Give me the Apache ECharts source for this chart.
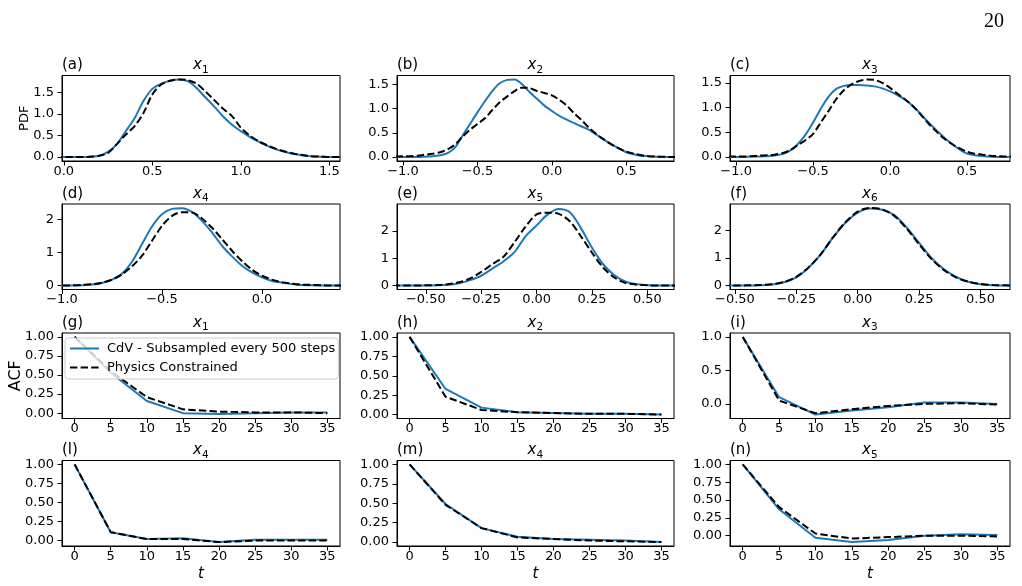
<!DOCTYPE html>
<html><head><meta charset="utf-8">
<script src="https://cdn.jsdelivr.net/npm/echarts@6/dist/echarts.min.js"></script>
<style>html,body{margin:0;padding:0;background:#fff}#c{width:1022px;height:586px}</style>
</head><body><div id="c"></div>
<script>
// ---------- DATA ----------
const seriesNames = ['CdV - Subsampled every 500 steps', 'Physics Constrained'];
const lags = [0, 5, 10, 15, 20, 25, 30, 35];

const xA = [-0.05,0,0.05,0.1,0.15,0.2,0.25,0.3,0.35,0.4,0.45,0.5,0.55,0.6,0.65,0.7,0.75,0.8,0.85,0.9,0.95,1.0,1.05,1.1,1.15,1.2,1.25,1.3,1.35,1.4,1.45,1.5,1.55,1.6];
const cdvA = [0,0,0,0,0.01,0.03,0.12,0.3,0.6,0.9,1.3,1.58,1.7,1.77,1.8,1.76,1.6,1.38,1.17,0.94,0.75,0.6,0.47,0.36,0.26,0.18,0.12,0.07,0.04,0.02,0.01,0,0,0];
const pcA  = [0,0,0,0,0.01,0.03,0.1,0.3,0.52,0.72,1.02,1.45,1.68,1.77,1.8,1.78,1.7,1.52,1.32,1.12,0.95,0.68,0.5,0.37,0.27,0.19,0.13,0.08,0.05,0.02,0.01,0,0,0];

const xB = [-1.05,-1.0,-0.95,-0.9,-0.85,-0.8,-0.75,-0.7,-0.65,-0.6,-0.55,-0.5,-0.45,-0.4,-0.35,-0.3,-0.25,-0.2,-0.15,-0.1,-0.05,0,0.05,0.1,0.15,0.2,0.25,0.3,0.35,0.4,0.45,0.5,0.55,0.6,0.65,0.7,0.75,0.8,0.85];
const cdvB = [0,0,0,0,0.01,0.02,0.04,0.08,0.2,0.44,0.68,0.92,1.15,1.36,1.52,1.59,1.6,1.5,1.34,1.2,1.06,0.95,0.85,0.77,0.7,0.63,0.56,0.46,0.36,0.26,0.18,0.1,0.06,0.03,0.02,0.01,0,0,0];
const pcB  = [0.01,0.02,0.02,0.03,0.05,0.07,0.1,0.16,0.26,0.42,0.56,0.68,0.8,0.97,1.13,1.25,1.36,1.43,1.42,1.36,1.32,1.27,1.18,1.06,0.9,0.76,0.6,0.47,0.36,0.26,0.18,0.11,0.07,0.04,0.02,0.01,0.01,0,0];

const xC = [-1.05,-1.0,-0.95,-0.9,-0.85,-0.8,-0.75,-0.7,-0.65,-0.6,-0.55,-0.5,-0.45,-0.4,-0.35,-0.3,-0.25,-0.2,-0.15,-0.1,-0.05,0,0.05,0.1,0.15,0.2,0.25,0.3,0.35,0.4,0.45,0.5,0.55,0.6,0.65,0.7,0.75,0.8];
const cdvC = [0,0,0,0.01,0.01,0.02,0.03,0.06,0.13,0.26,0.45,0.7,0.98,1.22,1.38,1.44,1.46,1.46,1.45,1.43,1.39,1.33,1.25,1.16,1.03,0.87,0.7,0.55,0.4,0.27,0.16,0.07,0.04,0.02,0.01,0,0,0];
const pcC  = [0.01,0.01,0.01,0.02,0.03,0.04,0.05,0.08,0.14,0.24,0.34,0.47,0.7,0.93,1.17,1.35,1.47,1.54,1.57,1.56,1.5,1.4,1.28,1.16,1.03,0.86,0.68,0.52,0.38,0.27,0.18,0.11,0.07,0.05,0.03,0.02,0.01,0.01];

const xD = [-1.05,-1.0,-0.95,-0.9,-0.85,-0.8,-0.75,-0.7,-0.65,-0.6,-0.55,-0.5,-0.45,-0.4,-0.35,-0.3,-0.25,-0.2,-0.15,-0.1,-0.05,0,0.05,0.1,0.15,0.2,0.25,0.3,0.35,0.4,0.45];
const cdvD = [0,0,0,0.01,0.03,0.08,0.18,0.36,0.72,1.25,1.78,2.15,2.31,2.33,2.22,1.95,1.6,1.2,0.88,0.6,0.4,0.25,0.14,0.09,0.05,0.02,0.01,0,0,0,0];
const pcD  = [0,0,0.01,0.02,0.04,0.09,0.18,0.34,0.58,0.9,1.35,1.8,2.1,2.21,2.2,2.02,1.74,1.4,1.05,0.74,0.48,0.3,0.18,0.1,0.06,0.03,0.02,0.01,0,0,0];

const xE = [-0.65,-0.6,-0.55,-0.5,-0.45,-0.4,-0.35,-0.3,-0.25,-0.2,-0.15,-0.1,-0.05,0,0.05,0.1,0.15,0.2,0.25,0.3,0.35,0.4,0.45,0.5,0.55,0.6,0.65];
const cdvE = [0,0,0,0,0.01,0.03,0.09,0.2,0.36,0.62,0.88,1.22,1.8,2.2,2.6,2.8,2.68,2.1,1.38,0.78,0.39,0.15,0.05,0.02,0,0,0];
const pcE  = [0,0,0,0.01,0.02,0.05,0.12,0.26,0.5,0.78,1.05,1.58,2.15,2.6,2.66,2.62,2.35,1.8,1.2,0.66,0.3,0.1,0.04,0.01,0,0,0];

const xF = [-0.55,-0.5,-0.45,-0.4,-0.35,-0.3,-0.25,-0.2,-0.15,-0.1,-0.05,0,0.05,0.1,0.15,0.2,0.25,0.3,0.35,0.4,0.45,0.5,0.55,0.6,0.65];
const cdvF = [0,0,0,0.01,0.04,0.12,0.3,0.65,1.14,1.75,2.28,2.65,2.8,2.75,2.55,2.1,1.55,1.0,0.6,0.32,0.14,0.05,0.01,0,0];
const pcF  = [0,0,0.01,0.02,0.05,0.13,0.32,0.66,1.14,1.76,2.3,2.68,2.82,2.76,2.52,2.06,1.5,0.97,0.57,0.3,0.14,0.06,0.02,0.01,0];

const acfG_cdv = [1.0,0.53,0.16,0.0,-0.01,0.0,0.01,0.01];
const acfG_pc  = [1.0,0.55,0.21,0.05,0.02,0.01,0.01,0.0];
const acfH_cdv = [1.0,0.33,0.09,0.03,0.02,0.01,0.01,0.0];
const acfH_pc  = [1.0,0.23,0.06,0.03,0.02,0.01,0.01,0.0];
const acfI_cdv = [1.0,0.1,-0.16,-0.1,-0.05,0.02,0.02,0.0];
const acfI_pc  = [1.0,0.05,-0.14,-0.08,-0.03,0.0,0.01,-0.01];
const acfL_cdv = [1.0,0.11,0.02,0.03,-0.02,0.01,0.01,0.01];
const acfL_pc  = [1.0,0.11,0.02,0.02,-0.02,0.0,0.0,0.0];
const acfM_cdv = [1.0,0.49,0.18,0.07,0.04,0.03,0.02,0.0];
const acfM_pc  = [1.0,0.48,0.18,0.06,0.04,0.02,0.01,0.0];
const acfN_cdv = [1.0,0.37,-0.03,-0.09,-0.06,0.0,0.02,0.01];
const acfN_pc  = [1.0,0.40,0.03,-0.04,-0.02,0.0,0.0,-0.01];

const ticksX_A = [0, 0.5, 1.0, 1.5];
const ticksX_BC = [-1.0, -0.5, 0.0, 0.5];
const ticksX_D = [-1.0, -0.5, 0.0];
const ticksX_EF = [-0.5, -0.25, 0, 0.25, 0.5];
const ticksY_ABC = [0, 0.5, 1.0, 1.5];
const ticksY_DEF = [0, 1, 2];
const ticksX_ACF = [0, 5, 10, 15, 20, 25, 30, 35];
const ticksY_ACF = [0, 0.25, 0.5, 0.75, 1.0];
const ticksY_ACF_I = [0, 0.5, 1.0];

const panelLetters = ['(a)','(b)','(c)','(d)','(e)','(f)','(g)','(h)','(i)','(l)','(m)','(n)'];
const panelSubs = ['1','2','3','4','5','6','1','2','3','4','4','5'];

// ---------- PANEL CONFIG ----------
const panels = [
  {x:xA, c:cdvA, p:pcA, smooth:true, xr:[-0.01,1.56], yr:[-0.09,1.89], xt:ticksX_A, yt:ticksY_ABC, xd:1, yd:1},
  {x:xB, c:cdvB, p:pcB, smooth:true, xr:[-1.04,0.82], yr:[-0.08,1.68], xt:ticksX_BC, yt:ticksY_ABC, xd:1, yd:1},
  {x:xC, c:cdvC, p:pcC, smooth:true, xr:[-1.04,0.78], yr:[-0.0785,1.65], xt:ticksX_BC, yt:ticksY_ABC, xd:1, yd:1},
  {x:xD, c:cdvD, p:pcD, smooth:true, xr:[-1.0,0.39], yr:[-0.117,2.457], xt:ticksX_D, yt:ticksY_DEF, xd:1, yd:0},
  {x:xE, c:cdvE, p:pcE, smooth:true, xr:[-0.63,0.62], yr:[-0.142,2.98], xt:ticksX_EF, yt:ticksY_DEF, xd:2, yd:0},
  {x:xF, c:cdvF, p:pcF, smooth:true, xr:[-0.52,0.62], yr:[-0.141,2.96], xt:ticksX_EF, yt:ticksY_DEF, xd:2, yd:0},
  {x:lags, c:acfG_cdv, p:acfG_pc, smooth:false, xr:[-1.75,36.75], yr:[-0.07,1.05], xt:ticksX_ACF, yt:ticksY_ACF, xd:0, yd:2},
  {x:lags, c:acfH_cdv, p:acfH_pc, smooth:false, xr:[-1.75,36.75], yr:[-0.05,1.05], xt:ticksX_ACF, yt:ticksY_ACF, xd:0, yd:2},
  {x:lags, c:acfI_cdv, p:acfI_pc, smooth:false, xr:[-1.75,36.75], yr:[-0.218,1.058], xt:ticksX_ACF, yt:ticksY_ACF_I, xd:0, yd:1},
  {x:lags, c:acfL_cdv, p:acfL_pc, smooth:false, xr:[-1.75,36.75], yr:[-0.071,1.051], xt:ticksX_ACF, yt:ticksY_ACF, xd:0, yd:2},
  {x:lags, c:acfM_cdv, p:acfM_pc, smooth:false, xr:[-1.75,36.75], yr:[-0.05,1.05], xt:ticksX_ACF, yt:ticksY_ACF, xd:0, yd:2},
  {x:lags, c:acfN_cdv, p:acfN_pc, smooth:false, xr:[-1.75,36.75], yr:[-0.1445,1.0545], xt:ticksX_ACF, yt:ticksY_ACF, xd:0, yd:2}
];

// ---------- LAYOUT ----------
const colLeft = [62, 397, 730];
const colWidth = [278, 277, 280];
const rowTop = [75.5, 204, 333, 460.5];
const rowH = 85.5;
const FONT = 'DejaVu Sans';
const BLUE = '#1f77b4';

const fmt = (v, d) => (v < -1e-9 ? '\u2212' : '') + Math.abs(v).toFixed(d);

const grids = [], xAxes = [], yAxes = [], series = [], graphics = [];
panels.forEach((pn, i) => {
  const col = i % 3, row = Math.floor(i / 3);
  grids.push({left: colLeft[col], top: rowTop[row], width: colWidth[col], height: rowH,
    show: true, borderColor: '#000', borderWidth: 1, backgroundColor: 'transparent', containLabel: false, outerBoundsMode: 'none'});
  const axisCommon = {
    axisLine: {show: true, onZero: false, lineStyle: {color: '#000', width: 1}},
    splitLine: {show: false}
  };
  xAxes.push(Object.assign({type: 'value', gridIndex: i, min: pn.xr[0], max: pn.xr[1],
    axisTick: {show: true, inside: false, length: 4.5, lineStyle: {color: '#000', width: 1}, customValues: pn.xt},
    axisLabel: {show: true, customValues: pn.xt, color: '#000', fontSize: 13, fontFamily: FONT, margin: 4,
      formatter: v => fmt(v, pn.xd)}}, axisCommon));
  yAxes.push(Object.assign({type: 'value', gridIndex: i, min: pn.yr[0], max: pn.yr[1],
    axisTick: {show: true, inside: false, length: 4.5, lineStyle: {color: '#000', width: 1}, customValues: pn.yt},
    axisLabel: {show: true, customValues: pn.yt, color: '#000', fontSize: 13, fontFamily: FONT, margin: 8,
      formatter: v => fmt(v, pn.yd)}}, axisCommon));
  series.push({type: 'line', name: seriesNames[0], xAxisIndex: i, yAxisIndex: i,
    data: pn.x.map((xv, j) => [xv, pn.c[j]]), symbol: 'none', smooth: pn.smooth ? 0.3 : false,
    lineStyle: {color: BLUE, width: 2}, itemStyle: {color: BLUE}, z: 2, silent: true});
  series.push({type: 'line', name: seriesNames[1], xAxisIndex: i, yAxisIndex: i,
    data: pn.x.map((xv, j) => [xv, pn.p[j]]), symbol: 'none', smooth: pn.smooth ? 0.3 : false,
    lineStyle: {color: '#000', width: 2, type: [7.4, 3.2]}, itemStyle: {color: '#000'}, z: 3, silent: true});
  // panel letter
  graphics.push({type: 'text', x: colLeft[col], y: rowTop[row] - 10,
    style: {text: panelLetters[i], fontSize: 15, fontFamily: FONT, fill: '#000', align: 'left', verticalAlign: 'middle'}});
  // title x_k
  const cx = colLeft[col] + colWidth[col] / 2;
  graphics.push({type: 'text', x: cx + 1, y: rowTop[row] - 10,
    style: {text: 'x', fontSize: 15, fontStyle: 'italic', fontFamily: FONT, fill: '#000', align: 'right', verticalAlign: 'middle'}});
  graphics.push({type: 'text', x: cx + 1, y: rowTop[row] - 5.5,
    style: {text: panelSubs[i], fontSize: 10.5, fontFamily: FONT, fill: '#000', align: 'left', verticalAlign: 'middle'}});
  if (row === 3) {
    graphics.push({type: 'text', x: cx, y: rowTop[row] + rowH + 28,
      style: {text: 't', fontSize: 15, fontStyle: 'italic', fontFamily: FONT, fill: '#000', align: 'center', verticalAlign: 'middle'}});
  }
});
graphics.push({type: 'text', x: 25, y: rowTop[0] + rowH / 2, rotation: Math.PI / 2,
  style: {text: 'PDF', fontSize: 13, fontFamily: FONT, fill: '#000', align: 'center', verticalAlign: 'middle'}});
graphics.push({type: 'text', x: 16, y: rowTop[2] + rowH / 2, rotation: Math.PI / 2,
  style: {text: 'ACF', fontSize: 16, fontFamily: FONT, fill: '#000', align: 'center', verticalAlign: 'middle'}});
graphics.push({type: 'text', x: 994, y: 22,
  style: {text: '20', fontSize: 20, fontFamily: 'Liberation Serif', fill: '#000', align: 'center', verticalAlign: 'middle'}});

const chart = echarts.init(document.getElementById('c'), null, {renderer: 'canvas'});
chart.setOption({
  animation: false,
  backgroundColor: '#fff',
  grid: grids, xAxis: xAxes, yAxis: yAxes, series: series,
  legend: {
    data: seriesNames, orient: 'vertical', left: 65, top: 338,
    padding: [4, 3, 5, 4], itemWidth: 29, itemHeight: 14, itemGap: 6,
    itemStyle: {opacity: 0, borderWidth: 0},
    backgroundColor: 'rgba(255,255,255,0.8)', borderColor: '#cccccc', borderWidth: 1, borderRadius: 3,
    textStyle: {fontSize: 13, fontFamily: FONT, color: '#000', padding: [0, 0, 0, 3]}, selectedMode: false
  },
  graphic: graphics
});
</script></body></html>
